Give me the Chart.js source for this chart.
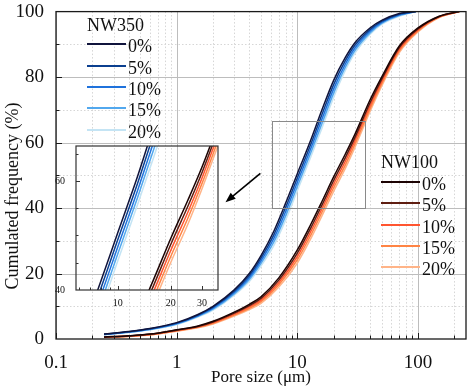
<!DOCTYPE html>
<html>
<head>
<meta charset="utf-8">
<script src="https://cdn.jsdelivr.net/npm/chart.js@4.4.0/dist/chart.umd.min.js"></script>
<style>
  body { margin: 0; background: #fff; }
  #wrap { position: relative; width: 470px; height: 388px; font-family: "Liberation Serif", serif; color: #111; }
  canvas { position: absolute; }
  .leg { position: absolute; font-size: 18px; line-height: 20px; white-space: nowrap; }
  .sw { position: absolute; height: 2px; }
</style>
</head>
<body>
<div id="wrap">
  <canvas id="main" width="470" height="388" style="left:0;top:0"></canvas>
  <canvas id="inset" width="180" height="172" style="left:46px;top:138px"></canvas>
  <div id="legends"></div>
</div>
<script>
// pore sizes (um)
const poreNW350 = [0.25, 0.4, 0.6, 1, 1.5, 2, 3, 4, 5, 6.4, 8, 10, 13, 16, 20, 25, 30, 40, 50, 70, 96];
const poreNW100 = [0.25, 0.4, 0.6, 1, 1.5, 2, 3, 4, 5, 7, 10, 13, 16, 20, 25, 30, 40, 50, 70, 100, 150, 220];

// cumulated frequency (%), NW350
const nw350_0  = [1.5, 2.3, 3.2, 5.0, 7.5, 10, 15, 20, 25.5, 33, 41.5, 50.5, 61, 70, 79, 86, 90.5, 95, 97.3, 99.4, 100];
const nw350_5  = [1.45, 2.22, 3.1, 4.85, 7.3, 9.7, 14.6, 19.4, 24.7, 31.9, 40.2, 49.2, 59.7, 68.6, 77.7, 85, 89.7, 94.5, 97, 99.2, 100];
const nw350_10 = [1.4, 2.14, 3.0, 4.7, 7.1, 9.4, 14.2, 18.8, 23.9, 30.8, 38.9, 47.9, 58.4, 67.2, 76.4, 84, 88.9, 94, 96.7, 99.0, 100];
const nw350_15 = [1.35, 2.06, 2.9, 4.55, 6.9, 9.1, 13.8, 18.2, 23.1, 29.7, 37.6, 46.6, 57.1, 65.8, 75.1, 83, 88.1, 93.5, 96.4, 98.8, 100];
const nw350_20 = [1.3, 1.98, 2.8, 4.4, 6.7, 8.8, 13.4, 17.6, 22.3, 28.6, 36.3, 45.3, 55.8, 64.4, 73.8, 82, 87.3, 93, 96.1, 98.6, 100];

// cumulated frequency (%), NW100
const nw100_0  = [0.6, 1.0, 1.5, 2.8, 4.0, 5.4, 8.2, 10.6, 12.9, 18.6, 27.2, 35.2, 42, 49.5, 56.5, 62.5, 73, 80, 89.5, 95, 98.6, 100];
const nw100_5  = [0.57, 0.95, 1.43, 2.7, 3.85, 5.2, 7.9, 10.2, 12.4, 17.9, 26.2, 34.1, 40.9, 48.4, 55.4, 61.5, 72.1, 79.3, 89, 94.7, 98.5, 100];
const nw100_10 = [0.54, 0.9, 1.36, 2.6, 3.7, 5.0, 7.6, 9.8, 11.9, 17.2, 25.2, 33.0, 39.8, 47.3, 54.3, 60.5, 71.2, 78.6, 88.5, 94.4, 98.4, 100];
const nw100_15 = [0.51, 0.85, 1.29, 2.5, 3.55, 4.8, 7.3, 9.4, 11.4, 16.5, 24.2, 31.9, 38.7, 46.2, 53.2, 59.5, 70.3, 77.9, 88, 94.1, 98.3, 100];
const nw100_20 = [0.48, 0.8, 1.22, 2.4, 3.4, 4.6, 7.0, 9.0, 10.9, 15.8, 23.2, 30.8, 37.6, 45.1, 52.1, 58.5, 69.4, 77.2, 87.5, 93.8, 98.2, 100];

const contents = ['0%', '5%', '10%', '15%', '20%'];
const blueColors = ['#10143c', '#0b3f8f', '#1f72dc', '#52a8ee', '#c4e4f4'];
const redColors = ['#1c0303', '#5e1d10', '#ff5530', '#ff8444', '#ffb488'];

const xTicks = [0.1, 1, 10, 100];
const yTicks = [0, 20, 40, 60, 80, 100];
const insetXTicks = [10, 20, 30];
const insetYTicks = [40, 60];
const zoomBox = { x0: 6.2, x1: 36.5, y0: 40, y1: 66.7 };
const insetRange = { x0: 5.8, x1: 37, y0: 40, y1: 66.4 };

const FONT = 'Liberation Serif';

function toPts(xs, ys) { return xs.map((x, i) => ({ x: x, y: ys[i] })); }

function makeDatasets() {
  const blue = [nw350_0, nw350_5, nw350_10, nw350_15, nw350_20];
  const red = [nw100_0, nw100_5, nw100_10, nw100_15, nw100_20];
  const ds = [];
  blue.forEach((s, i) => ds.push({ label: 'NW350 ' + contents[i], data: toPts(poreNW350, s), borderColor: blueColors[i] }));
  red.forEach((s, i) => ds.push({ label: 'NW100 ' + contents[i], data: toPts(poreNW100, s), borderColor: redColors[i] }));
  ds.forEach(d => { d.showLine = true; d.pointRadius = 0; d.borderWidth = 1.5; d.cubicInterpolationMode = 'monotone'; d.fill = false; });
  return ds;
}

function logMinors(min, max) {
  const out = [];
  for (let d = Math.floor(Math.log10(min)); d <= Math.ceil(Math.log10(max)); d++) {
    for (let m = 1; m <= 9; m++) {
      const v = m * Math.pow(10, d);
      if (v >= min - 1e-9 && v <= max + 1e-9) out.push({ v: v, major: m === 1 });
    }
  }
  return out;
}

const mainDecor = {
  id: 'mainDecor',
  beforeDatasetsDraw(chart) {
    const { ctx, chartArea: a, scales: { x, y } } = chart;
    ctx.save();
    ctx.lineWidth = 1;
    logMinors(0.1, 250).forEach(t => {
      const px = Math.round(x.getPixelForValue(t.v)) + 0.5;
      ctx.strokeStyle = t.major ? '#bdbdbd' : '#d6d6d6';
      ctx.setLineDash(t.major ? [] : [1.5, 2]);
      ctx.beginPath(); ctx.moveTo(px, a.top); ctx.lineTo(px, a.bottom); ctx.stroke();
    });
    for (let v = 10; v < 100; v += 10) {
      const py = Math.round(y.getPixelForValue(v)) + 0.5;
      const major = v % 20 === 0;
      ctx.strokeStyle = major ? '#bdbdbd' : '#d6d6d6';
      ctx.setLineDash(major ? [] : [1.5, 2]);
      ctx.beginPath(); ctx.moveTo(a.left, py); ctx.lineTo(a.right, py); ctx.stroke();
    }
    ctx.restore();
  },
  afterDatasetsDraw(chart) {
    const { ctx, chartArea: a, scales: { x, y } } = chart;
    ctx.save();
    // zoom rectangle
    const rx0 = x.getPixelForValue(zoomBox.x0), rx1 = x.getPixelForValue(zoomBox.x1);
    const ry0 = y.getPixelForValue(zoomBox.y1), ry1 = y.getPixelForValue(zoomBox.y0);
    ctx.strokeStyle = '#8a8a8a'; ctx.lineWidth = 1;
    ctx.strokeRect(Math.round(rx0) + 0.5, Math.round(ry0) + 0.5, Math.round(rx1 - rx0), Math.round(ry1 - ry0));
    // arrow
    const ax0 = x.getPixelForValue(4.94), ay0 = y.getPixelForValue(50.6);
    const ax1 = x.getPixelForValue(2.54), ay1 = y.getPixelForValue(41.8);
    const ang = Math.atan2(ay1 - ay0, ax1 - ax0);
    ctx.strokeStyle = '#000'; ctx.fillStyle = '#000'; ctx.lineWidth = 1.6;
    ctx.beginPath(); ctx.moveTo(ax0, ay0); ctx.lineTo(ax1 - 6 * Math.cos(ang), ay1 - 6 * Math.sin(ang)); ctx.stroke();
    ctx.beginPath();
    ctx.moveTo(ax1, ay1);
    ctx.lineTo(ax1 - 10 * Math.cos(ang) + 4 * Math.sin(ang), ay1 - 10 * Math.sin(ang) - 4 * Math.cos(ang));
    ctx.lineTo(ax1 - 10 * Math.cos(ang) - 4 * Math.sin(ang), ay1 - 10 * Math.sin(ang) + 4 * Math.cos(ang));
    ctx.closePath(); ctx.fill();
    // frame + inward ticks
    ctx.strokeStyle = '#1a1a1a'; ctx.lineWidth = 1.3;
    ctx.strokeRect(a.left, a.top, a.right - a.left, a.bottom - a.top);
    ctx.lineWidth = 1;
    ctx.beginPath();
    logMinors(0.1, 250).forEach(t => {
      const px = Math.round(x.getPixelForValue(t.v)) + 0.5;
      ctx.moveTo(px, a.bottom); ctx.lineTo(px, a.bottom - (t.major ? 6 : 3.5));
    });
    for (let v = 10; v < 100; v += 10) {
      const py = Math.round(y.getPixelForValue(v)) + 0.5;
      ctx.moveTo(a.left, py); ctx.lineTo(a.left + (v % 20 === 0 ? 6 : 3.5), py);
    }
    ctx.stroke();
    ctx.restore();
  },
  afterDraw(chart) {
    // y axis title, placed like the original (a bit below centre)
    const { ctx } = chart;
    ctx.save();
    ctx.translate(13, 196);
    ctx.rotate(-Math.PI / 2);
    ctx.font = '18px "' + FONT + '"';
    ctx.fillStyle = '#111';
    ctx.textAlign = 'center';
    ctx.textBaseline = 'middle';
    ctx.fillText('Cumulated frequency (%)', 0, 0);
    ctx.restore();
  }
};

const insetDecor = {
  id: 'insetDecor',
  afterDatasetsDraw(chart) {
    const { ctx, chartArea: a, scales: { x, y } } = chart;
    ctx.save();
    ctx.strokeStyle = '#333'; ctx.lineWidth = 1.2;
    ctx.strokeRect(a.left, a.top, a.right - a.left, a.bottom - a.top);
    ctx.lineWidth = 1;
    ctx.beginPath();
    logMinors(insetRange.x0, insetRange.x1).forEach(t => {
      const px = Math.round(x.getPixelForValue(t.v)) + 0.5;
      const major = insetXTicks.includes(t.v);
      ctx.moveTo(px, a.bottom); ctx.lineTo(px, a.bottom - (major ? 4 : 2.5));
    });
    for (let v = 45; v <= 65; v += 5) {
      const py = Math.round(y.getPixelForValue(v)) + 0.5;
      ctx.moveTo(a.left, py); ctx.lineTo(a.left + (v % 20 === 0 ? 4 : 2.5), py);
    }
    ctx.stroke();
    ctx.restore();
  }
};

new Chart(document.getElementById('main'), {
  type: 'scatter',
  data: { datasets: makeDatasets() },
  plugins: [mainDecor],
  options: {
    responsive: false,
    animation: false,
    layout: { padding: { top: 9, right: 4, left: 0, bottom: 0 } },
    plugins: { legend: { display: false }, tooltip: { enabled: false } },
    scales: {
      x: {
        type: 'logarithmic', min: 0.1, max: 250,
        grid: { display: false }, border: { display: false },
        afterBuildTicks: s => { s.ticks = xTicks.map(v => ({ value: v })); },
        afterFit: s => { s.height = 49; },
        ticks: { callback: v => String(v), font: { family: FONT, size: 19, lineHeight: 0.8 }, color: '#111', padding: 8, maxRotation: 0, autoSkip: false },
        title: { display: true, text: 'Pore size (μm)', font: { family: FONT, size: 17 }, color: '#111', padding: 0 }
      },
      y: {
        min: 0, max: 100,
        grid: { display: false }, border: { display: false },
        afterBuildTicks: s => { s.ticks = yTicks.map(v => ({ value: v })); },
        afterFit: s => { s.width = 56; },
        ticks: { font: { family: FONT, size: 19, lineHeight: 0.8 }, color: '#111', padding: 4 }
      }
    }
  }
});

new Chart(document.getElementById('inset'), {
  type: 'scatter',
  data: { datasets: makeDatasets() },
  plugins: [insetDecor],
  options: {
    responsive: false,
    animation: false,
    layout: { padding: { top: 8, right: 8, left: 0, bottom: 0 } },
    plugins: { legend: { display: false }, tooltip: { enabled: false } },
    scales: {
      x: {
        type: 'logarithmic', min: insetRange.x0, max: insetRange.x1,
        grid: { display: false }, border: { display: false },
        afterBuildTicks: s => { s.ticks = insetXTicks.map(v => ({ value: v })); },
        afterFit: s => { s.height = 20; },
        ticks: { callback: v => String(v), font: { family: FONT, size: 10, lineHeight: 0.8 }, color: '#111', padding: 1, maxRotation: 0, autoSkip: false }
      },
      y: {
        min: insetRange.y0, max: insetRange.y1,
        grid: { display: false }, border: { display: false },
        afterBuildTicks: s => { s.ticks = insetYTicks.map(v => ({ value: v })); },
        afterFit: s => { s.width = 30; },
        ticks: { font: { family: FONT, size: 10, lineHeight: 0.8 }, color: '#111', padding: 3 }
      }
    }
  }
});

// legends
const legHost = document.getElementById('legends');
function addLegend(title, colors, left, titleY, rowYs) {
  const t = document.createElement('div');
  t.className = 'leg'; t.textContent = title;
  t.style.left = left + 'px'; t.style.top = (titleY - 10) + 'px';
  legHost.appendChild(t);
  contents.forEach((c, i) => {
    const sw = document.createElement('div');
    sw.className = 'sw'; sw.style.background = colors[i];
    sw.style.left = left + 'px'; sw.style.width = '39px'; sw.style.top = (rowYs[i] - 1) + 'px';
    legHost.appendChild(sw);
    const lb = document.createElement('div');
    lb.className = 'leg'; lb.textContent = c;
    lb.style.left = (left + 41) + 'px'; lb.style.top = (rowYs[i] - 8) + 'px';
    legHost.appendChild(lb);
  });
}
addLegend('NW350', blueColors, 87, 25, [44, 66, 87, 108, 130]);
addLegend('NW100', redColors, 381, 162, [182, 203, 225, 246, 267]);
</script>
</body>
</html>
